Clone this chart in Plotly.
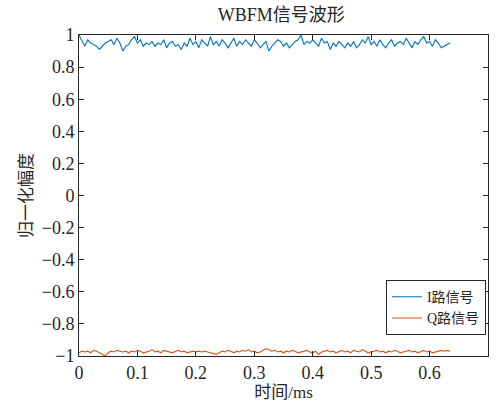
import plotly.graph_objects as go

t_ms = [round(0.005 * i, 3) for i in range(128)]

i_signal = [
    1.0, 0.96, 0.93, 0.97, 0.95, 0.94, 0.93, 0.91, 0.93, 0.95,
    0.96, 0.97, 0.94, 0.98, 0.95, 0.90, 0.93, 0.94, 0.97, 0.99,
    0.95, 0.97, 0.93, 0.95, 0.94, 0.96, 0.93, 0.95, 0.94, 0.97,
    0.92, 0.95, 0.96, 0.93, 0.94, 0.91, 0.95, 0.93, 0.98, 0.94,
    0.96, 0.92, 0.97, 0.95, 0.93, 0.99, 0.94, 0.96, 0.93, 0.97,
    0.95, 0.92, 0.95, 0.98, 0.93, 0.96, 0.94, 0.97, 0.95, 0.93,
    0.97, 0.95, 0.92, 0.94, 0.96, 0.90, 0.93, 0.95, 0.97, 0.96,
    0.93, 0.95, 0.92, 0.94, 0.96, 0.97, 1.0, 0.94, 0.96, 0.95,
    0.97, 0.95, 0.93, 0.98, 0.95, 0.96, 0.91, 0.95, 0.93, 0.96,
    0.94, 0.92, 0.95, 0.93, 0.96, 0.92, 0.94, 0.97, 0.95, 0.99,
    0.94, 0.96, 0.93, 0.97, 0.94, 0.92, 0.95, 0.97, 0.93, 0.95,
    0.96, 0.94, 0.98, 0.95, 0.92, 0.96, 0.94, 0.97, 0.99, 0.95,
    0.96, 0.93, 0.97, 0.95, 0.92, 0.93, 0.94, 0.95,
]

q_signal = [
    -0.98, -0.97, -0.975, -0.97, -0.98, -0.965, -0.97, -0.98, -0.99, -1.0,
    -0.98, -0.97, -0.975, -0.965, -0.97, -0.975, -0.97, -0.98, -0.97, -0.975,
    -0.965, -0.97, -0.98, -0.975, -0.97, -0.96, -0.975, -0.97, -0.98, -0.965,
    -0.97, -0.975, -0.98, -0.97, -0.965, -0.975, -0.97, -0.98, -0.975, -0.97,
    -0.975, -0.97, -0.975, -0.97, -0.975, -0.98, -0.985, -0.99, -0.98, -0.97,
    -0.975, -0.965, -0.97, -0.98, -0.97, -0.975, -0.965, -0.97, -0.96, -0.975,
    -0.97, -0.98, -0.975, -0.965, -0.955, -0.96, -0.97, -0.965, -0.975, -0.97,
    -0.98, -0.97, -0.975, -0.965, -0.97, -0.98, -0.975, -0.97, -0.965, -0.975,
    -0.98, -0.97, -0.99, -0.975, -0.97, -0.965, -0.975, -0.97, -0.98, -0.97,
    -0.965, -0.975, -0.97, -0.98, -0.965, -0.97, -0.975, -0.96, -0.97, -0.98,
    -0.975, -0.97, -0.965, -0.975, -0.97, -0.98, -0.97, -0.975, -0.965, -0.97,
    -0.98, -0.975, -0.97, -0.965, -0.975, -0.97, -0.98, -0.97, -0.965, -0.975,
    -0.97, -0.98, -0.975, -0.97, -0.965, -0.97, -0.965, -0.97,
]

FONT = "Liberation Serif, Times New Roman, Noto Sans CJK SC, serif"

fig = go.Figure()
fig.add_trace(go.Scatter(x=t_ms, y=i_signal, mode="lines", name="I路信号",
                         line=dict(color="#0072BD", width=1.1)))
fig.add_trace(go.Scatter(x=t_ms, y=q_signal, mode="lines", name="Q路信号",
                         line=dict(color="#D95319", width=1.1)))

axis_common = dict(showgrid=False, zeroline=False, showline=True, mirror="ticks",
                   linecolor="#262626", linewidth=1, ticks="inside", ticklen=5,
                   tickcolor="#262626", automargin=False,
                   tickfont=dict(family=FONT, size=18, color="#262626"))

fig.update_layout(
    width=498, height=409,
    margin=dict(l=79, r=10, t=35, b=53),
    paper_bgcolor="white", plot_bgcolor="white",
    font=dict(family=FONT, color="#262626"),
    title=dict(text="WBFM信号波形", x=0.565, xanchor="center", y=0.963, yanchor="middle",
               font=dict(family=FONT, size=18, color="#262626")),
    xaxis=dict(range=[0, 0.7], dtick=0.1, tick0=0,
               title=dict(text="时间/ms", font=dict(family=FONT, size=17), standoff=4),
               **axis_common),
    yaxis=dict(range=[-1, 1], dtick=0.2, tick0=-1, tickformat="~g",
               title=dict(text="归一化幅度", font=dict(family=FONT, size=17), standoff=4),
               **axis_common),
    legend=dict(x=0.995, y=0.065, xanchor="right", yanchor="bottom",
                bgcolor="white", bordercolor="#262626", borderwidth=1,
                font=dict(family=FONT, size=14, color="#262626"),
                tracegroupgap=0, itemwidth=30),
    showlegend=True,
)

fig.write_html("out.html")
